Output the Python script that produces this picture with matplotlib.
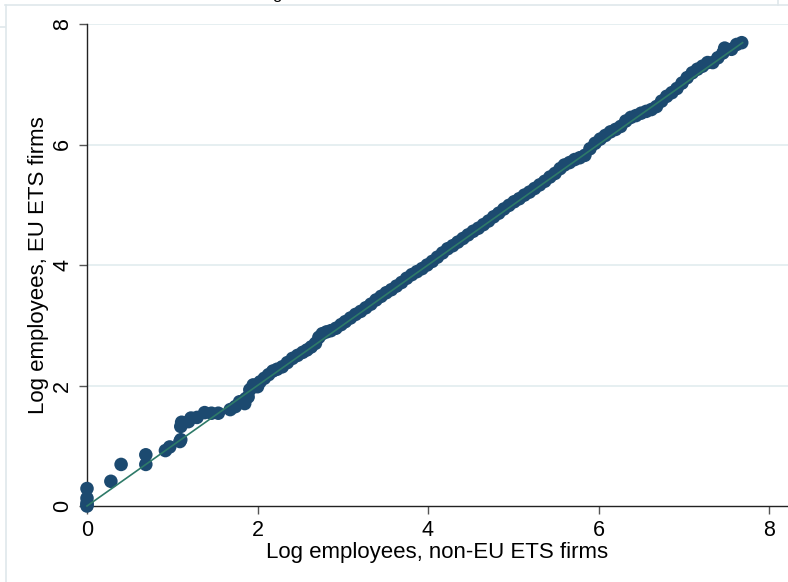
import numpy as np
import matplotlib
matplotlib.use("Agg")
import matplotlib.pyplot as plt
from matplotlib.lines import Line2D

# quantiles of log employees: non-EU ETS firms (x) against EU ETS firms (y)
q_non_eu = [
    0.00, 0.00, 0.00, 0.00, 0.00, 0.28, 0.40, 0.69, 0.69, 0.92,
    0.97, 1.09, 1.10, 1.10, 1.11, 1.19, 1.22, 1.29, 1.38, 1.46,
    1.54, 1.68, 1.74, 1.79, 1.85, 1.86, 1.89, 1.91, 1.95, 2.00,
    2.03, 2.08, 2.13, 2.18, 2.23, 2.29, 2.35, 2.41, 2.47, 2.53,
    2.58, 2.63, 2.68, 2.72, 2.76, 2.81, 2.86, 2.92, 2.98, 3.03,
    3.09, 3.15, 3.21, 3.27, 3.33, 3.39, 3.45, 3.51, 3.57, 3.63,
    3.69, 3.75, 3.81, 3.87, 3.93, 3.99, 4.05, 4.11, 4.17, 4.23,
    4.29, 4.35, 4.41, 4.47, 4.53, 4.59, 4.65, 4.71, 4.77, 4.83,
    4.89, 4.95, 5.01, 5.07, 5.13, 5.19, 5.25, 5.31, 5.37, 5.43,
    5.49, 5.55, 5.60, 5.66, 5.72, 5.78, 5.84, 5.90, 5.96, 6.02,
    6.08, 6.14, 6.20, 6.26, 6.32, 6.38, 6.44, 6.50, 6.56, 6.62,
    6.68, 6.74, 6.80, 6.86, 6.92, 6.98, 7.04, 7.10, 7.16, 7.22,
    7.28, 7.34, 7.40, 7.46, 7.48, 7.56, 7.62, 7.68,
]
q_eu = [
    0.00, 0.02, 0.05, 0.13, 0.29, 0.41, 0.69, 0.69, 0.85, 0.92,
    0.98, 1.07, 1.10, 1.32, 1.39, 1.40, 1.46, 1.47, 1.55, 1.54,
    1.54, 1.60, 1.65, 1.73, 1.70, 1.78, 1.81, 1.93, 2.01, 1.98,
    2.06, 2.12, 2.18, 2.24, 2.27, 2.31, 2.38, 2.45, 2.50, 2.55,
    2.59, 2.64, 2.70, 2.80, 2.86, 2.89, 2.91, 2.95, 3.01, 3.06,
    3.12, 3.18, 3.23, 3.29, 3.35, 3.42, 3.48, 3.54, 3.59, 3.65,
    3.71, 3.78, 3.84, 3.89, 3.94, 4.00, 4.06, 4.13, 4.20, 4.27,
    4.32, 4.38, 4.44, 4.50, 4.56, 4.61, 4.67, 4.73, 4.80, 4.86,
    4.93, 4.99, 5.05, 5.10, 5.16, 5.21, 5.27, 5.33, 5.39, 5.46,
    5.52, 5.60, 5.66, 5.70, 5.75, 5.78, 5.82, 5.93, 6.02, 6.09,
    6.15, 6.21, 6.25, 6.30, 6.39, 6.45, 6.48, 6.52, 6.55, 6.58,
    6.63, 6.72, 6.80, 6.86, 6.93, 7.02, 7.11, 7.19, 7.25, 7.30,
    7.36, 7.36, 7.44, 7.52, 7.60, 7.58, 7.66, 7.69,
]
x_ticks = [0, 2, 4, 6, 8]
y_ticks = [0, 2, 4, 6, 8]

plt.rcParams["font.family"] = ["Liberation Sans", "DejaVu Sans"]

navy = "#1c4a70"
teal = "#2e7a68"
grid_col = "#e6eff1"
frame_col = "#dfe7eb"

fig = plt.figure(figsize=(7.88, 5.82), dpi=100)
ax = fig.add_axes([87 / 788, 1 - 506 / 582, 1 - 87 / 788, (506 - 24) / 582])

ax.scatter(q_non_eu, q_eu, s=95, color=navy, edgecolors="none",
           zorder=3, clip_on=False)

# 45 degree reference line over the range of the quantiles
lo = min(min(q_non_eu), min(q_eu))
hi = max(max(q_non_eu), max(q_eu))
ax.plot([lo, hi], [lo, hi], color=teal, lw=1.2, zorder=4, clip_on=False)

ax.set_xlim(0, (788 - 87) / 85.25)
ax.set_ylim(0, 8)
ax.set_xticks(x_ticks)
ax.set_yticks(y_ticks)
ax.set_yticklabels([str(t) for t in y_ticks], rotation=90, va="center")

for t in y_ticks[1:]:
    ax.axhline(t, color=grid_col, lw=1.4, zorder=0)

for side in ["top", "right"]:
    ax.spines[side].set_visible(False)
for side in ["left", "bottom"]:
    ax.spines[side].set_linewidth(1.0)
    ax.spines[side].set_color("#222222")

ax.tick_params(axis="both", direction="out", labelsize=15.5, color="#555555",
               width=1.0)
ax.tick_params(axis="y", length=6, pad=4)
ax.tick_params(axis="x", length=6, pad=4)

ax.set_xlabel("Log employees, non-EU ETS firms", fontsize=16, labelpad=1)
ax.set_ylabel("Log employees, EU ETS firms", fontsize=16, labelpad=2)

# light window borders around the graph
fig.add_artist(Line2D([5 / 788, 1], [1 - 4.5 / 582] * 2, color=frame_col, lw=1.2))
fig.add_artist(Line2D([5.5 / 788] * 2, [0, 1 - 4.5 / 582], color=frame_col, lw=1.2))
fig.add_artist(Line2D([0, 5 / 788], [1 - 27 / 582] * 2, color=frame_col, lw=1.2))
fig.add_artist(Line2D([777.5 / 788] * 2, [1 - 4.5 / 582, 1], color=frame_col, lw=1.2))

# title above the graph, mostly outside the visible area
fig.text(272 / 788, 1 + 1.5 / 582, "g", fontsize=12, ha="left", va="baseline")
fig.text(370 / 788, 1 + 1.5 / 582, ",", fontsize=12, ha="left", va="baseline")

fig.savefig("out.png", dpi=100)
